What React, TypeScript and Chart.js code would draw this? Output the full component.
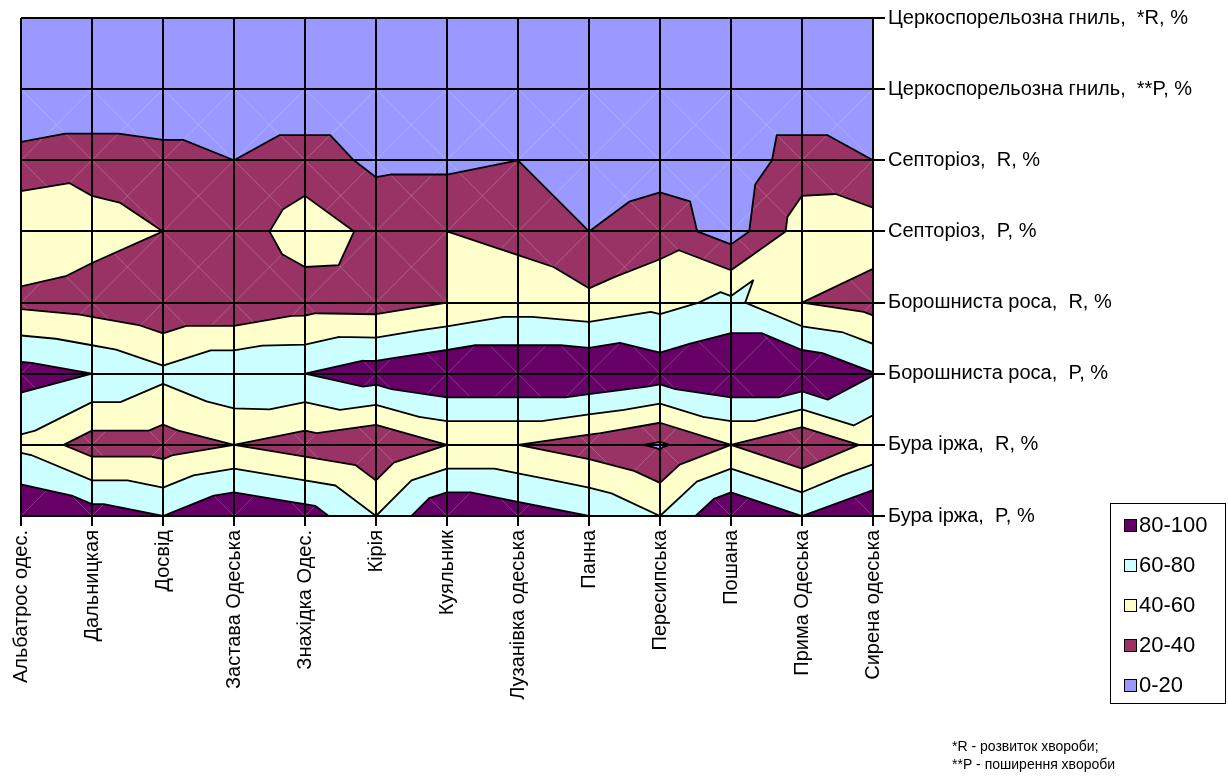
import React, { useEffect, useRef } from "react";
import { Chart, registerables } from "chart.js";

Chart.register(...registerables);

// ---- categories (varieties) ----
const varieties = [
  "Альбатрос одес.",
  "Дальницкая",
  "Досвід",
  "Застава Одеська",
  "Знахідка Одес.",
  "Кірія",
  "Куяльник",
  "Лузанівка одеська",
  "Панна",
  "Пересипська",
  "Пошана",
  "Прима Одеська",
  "Сирена одеська",
];

// ---- series (rows, top to bottom) ----
const seriesNames = [
  "Церкоспорельозна гниль,  *R, %",
  "Церкоспорельозна гниль,  **P, %",
  "Септоріоз,  R, %",
  "Септоріоз,  P, %",
  "Борошниста роса,  R, %",
  "Борошниста роса,  P, %",
  "Бура іржа,  R, %",
  "Бура іржа,  P, %",
];

// ---- values, % (one array per series, in variety order) ----
const cercosporaR = [0, 0, 0, 0, 0, 0, 0, 0, 0, 0, 0, 0, 0];
const cercosporaP = [0, 0, 0, 0, 0, 0, 0, 0, 0, 0, 0, 0, 0];
const septoriaR = [27, 32, 28, 20, 31, 15, 15, 20, 5, 11, 5, 31, 20];
const septoriaP = [57, 48, 40, 31, 49, 36, 40, 35, 20, 31, 10, 49, 50];
const mildewR = [35, 30, 21, 21, 31, 30, 40, 50, 45, 54, 65, 40, 31];
const mildewP = [89, 80, 65, 79, 80, 91, 100, 100, 100, 91, 100, 100, 81];
const rustR = [55, 30, 30, 40, 30, 20, 40, 40, 30, 17, 40, 20, 45];
const rustP = [100, 90, 80, 100, 90, 60, 100, 90, 80, 60, 100, 80, 100];

// ---- contour bands ----
const bandLimits = [0, 20, 40, 60, 80, 100];
const bandLabels = ["0-20", "20-40", "40-60", "60-80", "80-100"];
const bandColors = ["#9999FF", "#993366", "#FFFFCC", "#CCFFFF", "#660066"];

const footnotes = ["*R - розвиток хвороби;", "**P - поширення хвороби"];

const FONT = "'Liberation Sans', Arial, sans-serif";

type Pt = { x: number; y: number; v: number };

function clipAbove(tri: Pt[], L: number): { x: number; y: number }[] {
  const out: { x: number; y: number }[] = [];
  for (let a = 0; a < tri.length; a++) {
    const p = tri[a];
    const q = tri[(a + 1) % tri.length];
    const pin = p.v > L;
    const qin = q.v > L;
    if (pin) out.push({ x: p.x, y: p.y });
    if (pin !== qin) {
      const t = (L - p.v) / (q.v - p.v);
      out.push({ x: p.x + t * (q.x - p.x), y: p.y + t * (q.y - p.y) });
    }
  }
  return out;
}

const contourPlugin = {
  id: "contourSurface",
  beforeDatasetsDraw(chart: any) {
    const { ctx, chartArea, scales } = chart;
    const xs = scales.x;
    const ys = scales.y;
    const grid = [cercosporaR, cercosporaP, septoriaR, septoriaP, mildewR, mildewP, rustR, rustP];
    const nR = grid.length;
    const nC = varieties.length;
    const P = (i: number, j: number): Pt => ({
      x: xs.getPixelForValue(i),
      y: ys.getPixelForValue(j),
      v: grid[j][i],
    });
    const tris: Pt[][] = [];
    const diag: Pt[][] = [];
    for (let j = 0; j < nR - 1; j++) {
      for (let i = 0; i < nC - 1; i++) {
        const tl = P(i, j), tr = P(i + 1, j), bl = P(i, j + 1), br = P(i + 1, j + 1);
        if (tl.v + br.v >= tr.v + bl.v) {
          tris.push([tl, tr, br], [tl, br, bl]);
        } else {
          tris.push([tl, tr, bl], [tr, br, bl]);
        }
        if (!(tl.v === tr.v && tr.v === bl.v && bl.v === br.v)) {
          diag.push([tl, br], [tr, bl]);
        }
      }
    }
    const w = chartArea.right - chartArea.left;
    const h = chartArea.bottom - chartArea.top;
    ctx.save();
    ctx.beginPath();
    ctx.rect(chartArea.left, chartArea.top, w, h);
    ctx.clip();
    ctx.fillStyle = bandColors[0];
    ctx.fillRect(chartArea.left, chartArea.top, w, h);
    for (let k = 1; k < bandColors.length; k++) {
      const L = bandLimits[k];
      ctx.beginPath();
      for (const tri of tris) {
        let poly = clipAbove(tri, L);
        if (poly.length < 3) continue;
        let area = 0;
        for (let a = 0; a < poly.length; a++) {
          const p = poly[a], q = poly[(a + 1) % poly.length];
          area += p.x * q.y - q.x * p.y;
        }
        if (Math.abs(area) < 1e-6) continue;
        if (area < 0) poly = poly.slice().reverse();
        ctx.moveTo(poly[0].x, poly[0].y);
        for (let a = 1; a < poly.length; a++) ctx.lineTo(poly[a].x, poly[a].y);
        ctx.closePath();
      }
      ctx.fillStyle = bandColors[k];
      ctx.fill("nonzero");
    }
    // faint cell diagonals
    ctx.beginPath();
    for (const d of diag) {
      ctx.moveTo(d[0].x, d[0].y);
      ctx.lineTo(d[1].x, d[1].y);
    }
    ctx.strokeStyle = "rgba(255,255,255,0.22)";
    ctx.lineWidth = 1;
    ctx.stroke();
    // contour lines
    ctx.beginPath();
    for (let k = 1; k < bandColors.length; k++) {
      const L = bandLimits[k];
      for (const tri of tris) {
        const pts: { x: number; y: number }[] = [];
        for (let a = 0; a < 3; a++) {
          const p = tri[a], q = tri[(a + 1) % 3];
          if ((p.v > L) !== (q.v > L)) {
            const t = (L - p.v) / (q.v - p.v);
            pts.push({ x: p.x + t * (q.x - p.x), y: p.y + t * (q.y - p.y) });
          }
        }
        if (pts.length === 2) {
          ctx.moveTo(pts[0].x, pts[0].y);
          ctx.lineTo(pts[1].x, pts[1].y);
        }
      }
    }
    ctx.strokeStyle = "#000";
    ctx.lineWidth = 1.8;
    ctx.lineCap = "round";
    ctx.lineJoin = "round";
    ctx.stroke();
    ctx.restore();
  },
  afterDraw(chart: any) {
    const { ctx } = chart;
    ctx.save();
    // legend box
    ctx.strokeStyle = "#000";
    ctx.lineWidth = 1;
    ctx.strokeRect(1110.5, 503.5, 115, 200);
    ctx.font = `22px ${FONT}`;
    ctx.textBaseline = "middle";
    ctx.textAlign = "left";
    for (let n = 0; n < bandLabels.length; n++) {
      const k = bandLabels.length - 1 - n;
      const cy = 525 + n * 40;
      ctx.fillStyle = bandColors[k];
      ctx.fillRect(1124, cy - 6, 13, 13);
      ctx.strokeRect(1124.5, cy - 5.5, 12, 12);
      ctx.fillStyle = "#000";
      ctx.fillText(bandLabels[k], 1139, cy + 1);
    }
    // footnotes
    ctx.font = `14px ${FONT}`;
    ctx.fillStyle = "#000";
    ctx.fillText(footnotes[0], 952, 747);
    ctx.fillText(footnotes[1], 952, 765);
    ctx.restore();
  },
};

export default function App() {
  const canvasRef = useRef<HTMLCanvasElement | null>(null);

  useEffect(() => {
    if (!canvasRef.current) return;
    const chart = new Chart(canvasRef.current, {
      type: "scatter",
      data: { datasets: [{ label: "surface", data: [] }] },
      options: {
        responsive: false,
        animation: false,
        devicePixelRatio: 1,
        layout: { padding: { left: 21, top: 18, right: 0, bottom: 0 } },
        plugins: { legend: { display: false }, tooltip: { enabled: false } },
        scales: {
          x: {
            type: "linear",
            position: "bottom",
            min: 0,
            max: varieties.length - 1,
            ticks: {
              stepSize: 1,
              autoSkip: false,
              minRotation: 90,
              maxRotation: 90,
              padding: 4,
              color: "#000",
              font: { family: FONT, size: 20 },
              callback: (v: any) => varieties[Math.round(Number(v))],
            },
            grid: { color: "#000", lineWidth: 2, tickLength: 10, drawTicks: true, z: 1 },
            border: { color: "#000", width: 2, z: 1 },
            afterFit: (s: any) => {
              s.height = 262;
            },
          },
          y: {
            type: "linear",
            position: "right",
            reverse: true,
            min: 0,
            max: seriesNames.length - 1,
            ticks: {
              stepSize: 1,
              autoSkip: false,
              padding: 3,
              color: "#000",
              font: { family: FONT, size: 20 },
              callback: (v: any) => seriesNames[Math.round(Number(v))],
            },
            grid: { color: "#000", lineWidth: 2, tickLength: 12, drawTicks: true, z: 1 },
            border: { color: "#000", width: 2, z: 1 },
            afterFit: (s: any) => {
              s.width = 355;
            },
          },
        },
      },
      plugins: [contourPlugin],
    } as any);
    return () => chart.destroy();
  }, []);

  return (
    <div style={{ position: "absolute", left: 0, top: 0, width: 1228, height: 778, background: "#fff" }}>
      <canvas ref={canvasRef} width={1228} height={778} style={{ display: "block" }} />
    </div>
  );
}
